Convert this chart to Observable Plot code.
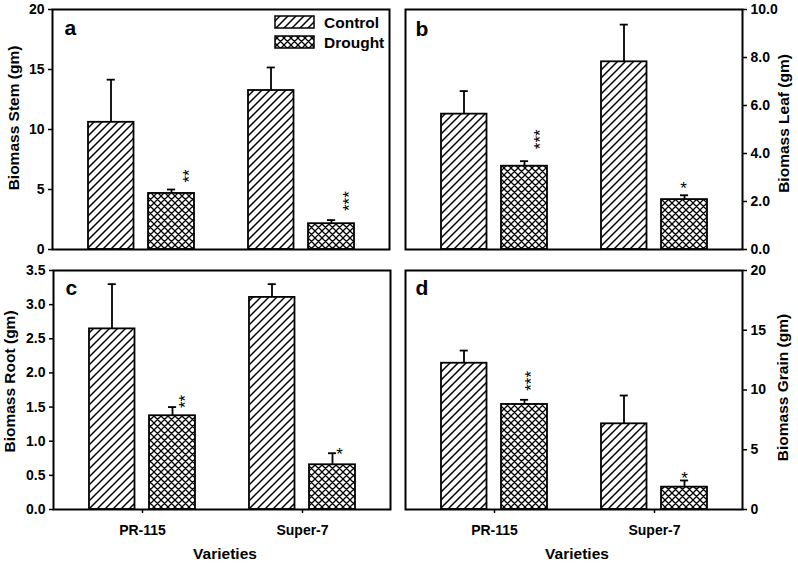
<!DOCTYPE html>
<html>
<head>
<meta charset="utf-8">
<script src="https://cdn.jsdelivr.net/npm/d3@7"></script>
<script src="https://cdn.jsdelivr.net/npm/@observablehq/plot@0.6"></script>
<style>
  html, body { margin: 0; padding: 0; background: #fff; }
  #wrap { position: relative; width: 798px; height: 568px; overflow: hidden;
          font-family: "Liberation Sans", Arial, sans-serif; }
  .panel { position: absolute; }
</style>
</head>
<body>
<svg width="0" height="0" style="position:absolute">
  <defs>
    <pattern id="hatch" patternUnits="userSpaceOnUse" width="8" height="8">
      <rect width="8" height="8" fill="#fff"/>
      <path d="M-2,2 L2,-2 M0,8 L8,0 M6,10 L10,6" stroke="#000" stroke-width="1.5"/>
    </pattern>
    <pattern id="cross" patternUnits="userSpaceOnUse" width="7" height="7">
      <rect width="7" height="7" fill="#fff"/>
      <path d="M-2,2 L2,-2 M0,7 L7,0 M5,9 L9,5 M-2,5 L2,9 M0,0 L7,7 M5,-2 L9,2" stroke="#000" stroke-width="1.3"/>
    </pattern>
  </defs>
</svg>
<div id="wrap"></div>
<script>
// ---------------- data ----------------
const varieties = ["PR-115", "Super-7"];
const treatments = ["Control", "Drought"];

const stemControl = [10.6, 13.25];
const stemControlSE = [3.55, 1.92];
const stemDrought = [4.67, 2.15];
const stemDroughtSE = [0.33, 0.30];
const stemStars = ["**", "***"];

const leafControl = [5.64, 7.82];
const leafControlSE = [0.96, 1.55];
const leafDrought = [3.47, 2.08];
const leafDroughtSE = [0.21, 0.18];
const leafStars = ["***", "*"];

const rootControl = [2.645, 3.106];
const rootControlSE = [0.655, 0.194];
const rootDrought = [1.373, 0.655];
const rootDroughtSE = [0.127, 0.169];
const rootStars = ["**", "*"];

const grainControl = [12.24, 7.17];
const grainControlSE = [1.06, 2.37];
const grainDrought = [8.79, 1.87];
const grainDroughtSE = [0.39, 0.56];
const grainStars = ["***", "*"];

const stemTicks = [0, 5, 10, 15, 20];
const leafTicks = [0, 2, 4, 6, 8, 10];
const rootTicks = [0, 0.5, 1, 1.5, 2, 2.5, 3, 3.5];
const grainTicks = [0, 5, 10, 15, 20];

function rows(ctrl, ctrlSE, dr, drSE, stars) {
  const out = [];
  varieties.forEach((v, i) => {
    out.push({variety: v, treatment: treatments[0], mean: ctrl[i], se: ctrlSE[i], star: ""});
    out.push({variety: v, treatment: treatments[1], mean: dr[i], se: drSE[i], star: stars[i]});
  });
  return out;
}

// ---------------- layout / style ----------------
const panels = [
  {letter: "a", title: "Biomass Stem (gm)", data: rows(stemControl, stemControlSE, stemDrought, stemDroughtSE, stemStars),
   ticks: stemTicks, fmt: d => String(d), side: "left", left: 0, top: 0, h: 262,
   m: {l: 52, r: 10, t: 9, b: 13}, tdx: -38, tdy: -11.5, xaxis: false, ldx: 12, ldy: 11,
   starStyle: [{rot: true, dx: 48.3, dy: -7}, {rot: true, dx: 48.3, dy: -9}]},
  {letter: "b", title: "Biomass Leaf (gm)", data: rows(leafControl, leafControlSE, leafDrought, leafDroughtSE, leafStars),
   ticks: leafTicks, fmt: d3.format(".1f"), side: "right", left: 399, top: 0, h: 262,
   m: {l: 6, r: 56, t: 9, b: 13}, tdx: 42, tdy: -6, xaxis: false, ldx: 10, ldy: 12,
   starStyle: [{rot: true, dx: 45.8, dy: -12}, {rot: false, dx: 29, dy: -7.2}]},
  {letter: "c", title: "Biomass Root (gm)", data: rows(rootControl, rootControlSE, rootDrought, rootDroughtSE, rootStars),
   ticks: rootTicks, fmt: d3.format(".1f"), side: "left", left: 0, top: 262, h: 306,
   m: {l: 53, r: 9, t: 8, b: 59}, tdx: -43.5, tdy: -8.5, xaxis: true, ldx: 12, ldy: 10,
   starStyle: [{rot: true, dx: 43.3, dy: 1}, {rot: false, dx: 37, dy: 1.8}]},
  {letter: "d", title: "Biomass Grain (gm)", data: rows(grainControl, grainControlSE, grainDrought, grainDroughtSE, grainStars),
   ticks: grainTicks, fmt: d => String(d), side: "right", left: 399, top: 262, h: 306,
   m: {l: 6, r: 56, t: 8, b: 59}, tdx: 41, tdy: -2.5, xaxis: true, ldx: 10, ldy: 10,
   starStyle: [{rot: true, dx: 36.8, dy: -9}, {rot: false, dx: 30, dy: -1.7}]}
];

const fills = {Control: "url(#hatch)", Drought: "url(#cross)"};
const barInset = {Control: {insetLeft: 0, insetRight: 60.5}, Drought: {insetLeft: 60, insetRight: 0}};
const capInset = {Control: {insetLeft: 18.7, insetRight: 79.2}, Drought: {insetLeft: 79, insetRight: 18.9}};
const errDx = {Control: -30.5, Drought: 30};
const LW = 1.8;

const wrap = document.getElementById("wrap");

panels.forEach(p => {
  const marks = [];
  treatments.forEach(t => {
    const sub = p.data.filter(d => d.treatment === t);
    marks.push(Plot.ruleX(sub, {x: "variety", y1: "mean", y2: d => d.mean + d.se, dx: errDx[t], stroke: "black", strokeWidth: LW}));
    marks.push(Plot.tickY(sub, {x: "variety", y: d => d.mean + d.se, stroke: "black", strokeWidth: LW, ...capInset[t]}));
    marks.push(Plot.barY(sub, {x: "variety", y: "mean", fill: fills[t], stroke: "black", strokeWidth: LW, ...barInset[t]}));
  });
  // significance stars
  const starred = p.data.filter(d => d.star);
  starred.forEach((d, i) => {
    const s = p.starStyle[i];
    marks.push(Plot.text([d], {
      x: "variety", y: r => r.mean + r.se, text: "star",
      dx: s.dx, dy: s.dy,
      rotate: s.rot ? -90 : 0,
      textAnchor: s.rot ? "start" : "middle",
      lineAnchor: "middle",
      fontSize: 17, fontWeight: "normal", fill: "black"
    }));
  });
  marks.push(Plot.frame({stroke: "black", strokeWidth: 2}));
  marks.push(Plot.axisY({anchor: p.side, ticks: p.ticks, tickFormat: p.fmt, tickSize: 4, tickPadding: 4,
    label: null, stroke: "black", strokeWidth: 1.5, fontSize: 14, fontWeight: "bold", fill: "black"}));
  if (p.xaxis) {
    marks.push(Plot.axisX({anchor: "bottom", tickSize: 4, tickPadding: 12, label: null,
      stroke: "black", strokeWidth: 1.5, fontSize: 14, fontWeight: "bold", fill: "black"}));
    marks.push(Plot.text(["Varieties"], {frameAnchor: "bottom", dx: 3, dy: 45, lineAnchor: "middle",
      fontSize: 15.5, fontWeight: "bold", fill: "black"}));
  }
  // axis title
  marks.push(Plot.text([p.title], {frameAnchor: p.side, dx: p.tdx, dy: p.tdy, rotate: -90,
    textAnchor: "middle", lineAnchor: "middle", fontSize: 15.5, fontWeight: "bold", fill: "black"}));
  // panel letter
  marks.push(Plot.text([p.letter], {frameAnchor: "top-left", dx: p.ldx, dy: p.ldy, textAnchor: "start",
    lineAnchor: "top", fontSize: 21, fontWeight: "bold", fill: "black"}));

  const svg = Plot.plot({
    width: 399, height: p.h,
    marginLeft: p.m.l, marginRight: p.m.r, marginTop: p.m.t, marginBottom: p.m.b,
    x: {type: "band", domain: varieties, paddingInner: 0.34, paddingOuter: 0.22, axis: null},
    y: {domain: [p.ticks[0], p.ticks[p.ticks.length - 1]], axis: null},
    style: {fontFamily: '"Liberation Sans", Arial, sans-serif', background: "transparent", overflow: "visible", color: "black"},
    marks
  });
  const holder = document.createElement("div");
  holder.className = "panel";
  holder.style.left = p.left + "px";
  holder.style.top = p.top + "px";
  holder.appendChild(svg);
  wrap.appendChild(holder);
});

// legend (inside panel a)
const NS = "http://www.w3.org/2000/svg";
const leg = document.createElementNS(NS, "svg");
leg.setAttribute("width", 125); leg.setAttribute("height", 45);
leg.setAttribute("class", "panel");
leg.style.left = "270px"; leg.style.top = "10px";
treatments.forEach((t, i) => {
  const r = document.createElementNS(NS, "rect");
  r.setAttribute("x", 5); r.setAttribute("y", 6 + 20 * i);
  r.setAttribute("width", 39); r.setAttribute("height", 12);
  r.setAttribute("fill", fills[t]); r.setAttribute("stroke", "black"); r.setAttribute("stroke-width", 1.5);
  leg.appendChild(r);
  const tx = document.createElementNS(NS, "text");
  tx.setAttribute("x", 54); tx.setAttribute("y", 18 + 20 * i);
  tx.setAttribute("font-size", 15.5); tx.setAttribute("font-weight", "bold");
  tx.setAttribute("font-family", '"Liberation Sans", Arial, sans-serif');
  tx.textContent = t;
  leg.appendChild(tx);
});
wrap.appendChild(leg);
</script>
</body>
</html>
